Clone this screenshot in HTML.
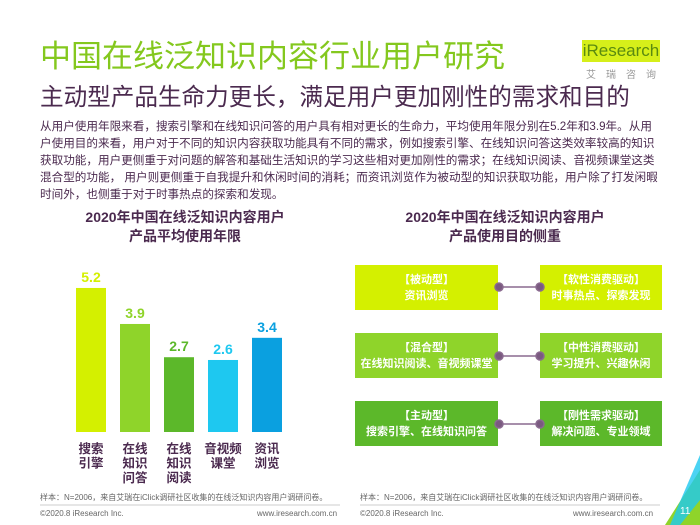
<!DOCTYPE html>
<html><head><meta charset="utf-8"><style>
body{margin:0;width:700px;height:525px;background:#fff;position:relative;overflow:hidden;font-family:"Liberation Sans","Noto Sans CJK SC",sans-serif;color:#4b2a4f}
.a{position:absolute}
.box{position:absolute;color:#fff;font-weight:bold;font-size:11px;text-align:center;line-height:16px;display:flex;flex-direction:column;justify-content:center;white-space:nowrap}
</style></head><body>
<div class="a" style="left:40px;top:38px;font-size:31px;color:#84c81e;line-height:38px;white-space:nowrap">中国在线泛知识内容行业用户研究</div>
<div class="a" style="left:582px;top:40px;width:78px;height:22px;background:#d6ef1a;color:#5a8a10;font-size:17px;line-height:22px;text-align:center">iResearch</div>
<div class="a" style="left:586px;top:66px;font-size:10px;color:#999;letter-spacing:10px">艾瑞咨询</div>
<div class="a" style="left:40px;top:84px;font-size:23.6px;line-height:28px;white-space:nowrap">主动型产品生命力更长，满足用户更加刚性的需求和目的</div>
<div class="a" style="left:40px;top:118px;font-size:11.6px;line-height:17px;white-space:nowrap">从用户使用年限来看，搜索引擎和在线知识问答的用户具有相对更长的生命力，平均使用年限分别在5.2年和3.9年。从用<br>户使用目的来看，用户对于不同的知识内容获取功能具有不同的需求，例如搜索引擎、在线知识问答这类效率较高的知识<br>获取功能，用户更侧重于对问题的解答和基础生活知识的学习这些相对更加刚性的需求；在线知识阅读、音视频课堂这类<br>混合型的功能， 用户则更侧重于自我提升和休闲时间的消耗；而资讯浏览作为被动型的知识获取功能，用户除了打发闲暇<br>时间外，也侧重于对于时事热点的探索和发现。</div>
<div class="a" style="left:60px;top:208px;width:250px;text-align:center;font-size:14px;font-weight:bold;line-height:19px">2020年中国在线泛知识内容用户<br>产品平均使用年限</div>
<div class="a" style="left:380px;top:208px;width:250px;text-align:center;font-size:14px;font-weight:bold;line-height:19px">2020年中国在线泛知识内容用户<br>产品使用目的侧重</div>
<svg class="a" style="left:0;top:0" width="700" height="525" id="chart"></svg>
<div class="box" style="left:355px;top:265px;width:143px;height:45px;background:#d4f000">【被动型】<br>资讯浏览</div>
<div class="box" style="left:540px;top:265px;width:122px;height:45px;background:#d4f000">【软性消费驱动】<br>时事热点、探索发现</div>
<div class="box" style="left:355px;top:333px;width:143px;height:45px;background:#8fd42a">【混合型】<br>在线知识阅读、音视频课堂</div>
<div class="box" style="left:540px;top:333px;width:122px;height:45px;background:#8fd42a">【中性消费驱动】<br>学习提升、兴趣休闲</div>
<div class="box" style="left:355px;top:401px;width:143px;height:45px;background:#5cb82a">【主动型】<br>搜索引擎、在线知识问答</div>
<div class="box" style="left:540px;top:401px;width:122px;height:45px;background:#5cb82a">【刚性需求驱动】<br>解决问题、专业领域</div>
<svg class="a" style="left:0;top:0" width="700" height="525">
<g stroke="#8a6a8f" stroke-width="1.5" fill="#7a5a80">
<line x1="499" y1="287" x2="540" y2="287"/><circle cx="499" cy="287" r="4"/><circle cx="540" cy="287" r="4"/>
<line x1="499" y1="356" x2="540" y2="356"/><circle cx="499" cy="356" r="4"/><circle cx="540" cy="356" r="4"/>
<line x1="499" y1="424" x2="540" y2="424"/><circle cx="499" cy="424" r="4"/><circle cx="540" cy="424" r="4"/>
</g>
<line x1="40" y1="505" x2="340" y2="505" stroke="#ccc"/><line x1="360" y1="505" x2="660" y2="505" stroke="#ccc"/>
<polygon points="700,470 700,525 665,525" fill="#8fd42a"/><polygon points="700,455 700,500 680,525 670,525" fill="#1ec8f0" opacity="0.8"/>
</svg>
<div class="a" style="left:40px;top:492px;font-size:8px;color:#666;white-space:nowrap">样本：N=2006，来自艾瑞在iClick调研社区收集的在线泛知识内容用户调研问卷。</div>
<div class="a" style="left:360px;top:492px;font-size:8px;color:#666;white-space:nowrap">样本：N=2006，来自艾瑞在iClick调研社区收集的在线泛知识内容用户调研问卷。</div>
<div class="a" style="left:40px;top:509px;font-size:8px;color:#666">©2020.8 iResearch Inc.</div>
<div class="a" style="left:257px;top:509px;font-size:8px;color:#666">www.iresearch.com.cn</div>
<div class="a" style="left:360px;top:509px;font-size:8px;color:#666">©2020.8 iResearch Inc.</div>
<div class="a" style="left:573px;top:509px;font-size:8px;color:#666">www.iresearch.com.cn</div>
<div class="a" style="left:680px;top:506px;font-size:10px;color:#fff">11</div>
<script>
const categories=["搜索\n引擎","在线\n知识\n问答","在线\n知识\n阅读","音视频\n课堂","资讯\n浏览"];
const values=[5.2,3.9,2.7,2.6,3.4];
const labels=["5.2","3.9","2.7","2.6","3.4"];
const colors=["#d4f000","#8fd42a","#5cb82a","#1ec8f0","#0aa0e0"];
const svg=document.getElementById('chart');const NS='http://www.w3.org/2000/svg';
const base=432,scale=27.7,x0=76,step=44,bw=30;
const y=v=>base-v*scale, x=i=>x0+i*step;
values.forEach((v,i)=>{
 const r=document.createElementNS(NS,'rect');
 r.setAttribute('x',x(i));r.setAttribute('y',y(v));r.setAttribute('width',bw);r.setAttribute('height',base-y(v));r.setAttribute('fill',colors[i]);
 
 
 svg.appendChild(r);
 const t=document.createElementNS(NS,'text');
 t.setAttribute('x',x(i)+bw/2);t.setAttribute('y',y(v)-6);t.setAttribute('text-anchor','middle');t.setAttribute('font-size','14');t.setAttribute('font-weight','bold');t.setAttribute('fill',colors[i]);
 t.textContent=labels[i];
 
 
 svg.appendChild(t);
 categories[i].split('\n').forEach((s,j)=>{
  const c=document.createElementNS(NS,'text');
  c.setAttribute('x',x(i)+bw/2);c.setAttribute('y',453+j*14.5);c.setAttribute('text-anchor','middle');c.setAttribute('font-size','12.5');c.setAttribute('font-weight','bold');c.setAttribute('fill','#4b2a4f');
  c.textContent=s;
  
  
  svg.appendChild(c);
 });
});
</script>
</body></html>
